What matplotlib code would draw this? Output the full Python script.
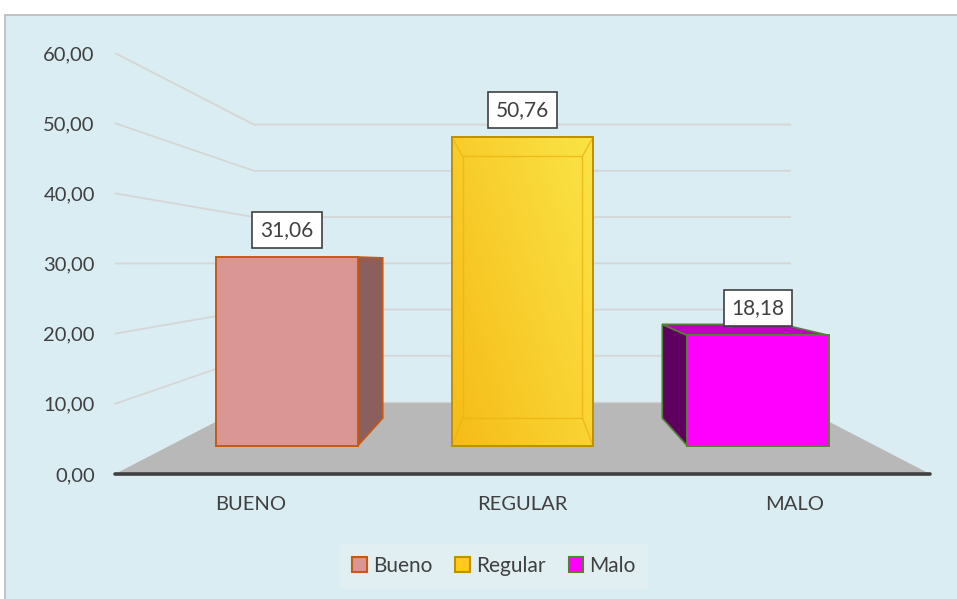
import matplotlib
matplotlib.use("Agg")
import matplotlib.pyplot as plt
import numpy as np
from matplotlib.patches import Polygon, Rectangle, Patch

# ---- data ----
categories = ["BUENO", "REGULAR", "MALO"]
series_names = ["Bueno", "Regular", "Malo"]
values = [31.06, 50.76, 18.18]
value_labels = ["31,06", "50,76", "18,18"]
y_ticks = [0, 10, 20, 30, 40, 50, 60]
y_tick_labels = ["0,00", "10,00", "20,00", "30,00", "40,00", "50,00", "60,00"]

# ---- style ----
FONT = "Lato"
TXT = "#404040"
front_colors = ["#D99694", "#F9CE2A", "#FF00FF"]
side_colors = ["#8C5F5F", "#D9A800", "#5F0060"]
top_colors = ["#B07272", "#F0C020", "#C000C0"]
edge_colors = ["#C55A11", "#BF9000", "#548235"]
legend_face = ["#D99694", "#FFC91F", "#FF00FF"]
glass = [False, True, False]

W, H = 957, 599
fig = plt.figure(figsize=(W / 100, H / 100), dpi=100)
fig.patch.set_facecolor("white")

# chart area background
fig.patches.append(Rectangle((5 / W, -0.05), 1.2, 1 - 15 / H + 0.05, transform=fig.transFigure,
                             facecolor="#DAEDF3", edgecolor="#C3C3C3", lw=1.5, zorder=-10))

ax = fig.add_axes([115 / W, (H - 474) / H, 815 / W, 421 / H])
ax.set_xlim(0, len(categories))
ax.set_ylim(0, 60)
ax.patch.set_visible(False)
for sp in ax.spines.values():
    sp.set_visible(False)

# perspective: vanishing point and depth scale factors (in data units)
VPX, VPY = len(categories) / 2, 30.07
S_FLOOR_BACK = 0.659
S_BAR_FRONT = 0.867
S_BAR_BACK = 0.735


def proj(x, y, s):
    return (VPX + s * (x - VPX), VPY + s * (y - VPY))


n = len(categories)
# gridlines: left wall + back wall
for v in y_ticks[1:]:
    p0 = proj(0, v, 1.0)
    p1 = proj(0, v, S_FLOOR_BACK)
    p2 = proj(n, v, S_FLOOR_BACK)
    ax.plot([p0[0], p1[0], p2[0]], [p0[1], p1[1], p2[1]], color="#D6D6D6", lw=1.3,
            clip_on=False, zorder=1, solid_capstyle="butt")

# floor
floor = [proj(0, 0, 1), proj(n, 0, 1), proj(n, 0, S_FLOOR_BACK), proj(0, 0, S_FLOOR_BACK)]
ax.add_patch(Polygon(floor, closed=True, facecolor="#B8B8B8", edgecolor="none", zorder=2, clip_on=False))
bl, br = proj(0, 0, S_FLOOR_BACK), proj(n, 0, S_FLOOR_BACK)
ax.plot([bl[0], br[0]], [bl[1], br[1]], color="#CFCFCF", lw=1.0, zorder=2.1, clip_on=False)
# axis line
ax.plot([0, n], [0, 0], color="#404040", lw=2.6, zorder=2.5, clip_on=False, solid_capstyle="round")

bw = 0.6
f, b = S_BAR_FRONT, S_BAR_BACK
for i, v in enumerate(values):
    xc = i + 0.5
    x0, x1 = xc - bw / 2, xc + bw / 2
    ec = edge_colors[i]
    z = 3 + i * 0.1
    # side faces
    if x1 < VPX:
        side = [proj(x1, 0, f), proj(x1, v, f), proj(x1, v, b), proj(x1, 0, b)]
        ax.add_patch(Polygon(side, closed=True, facecolor=side_colors[i], edgecolor=ec, lw=1.2,
                             zorder=z, clip_on=False))
    if x0 > VPX:
        side = [proj(x0, 0, f), proj(x0, v, f), proj(x0, v, b), proj(x0, 0, b)]
        ax.add_patch(Polygon(side, closed=True, facecolor=side_colors[i], edgecolor=ec, lw=1.2,
                             zorder=z, clip_on=False))
    if v < VPY:
        top = [proj(x0, v, f), proj(x1, v, f), proj(x1, v, b), proj(x0, v, b)]
        ax.add_patch(Polygon(top, closed=True, facecolor=top_colors[i], edgecolor=ec, lw=1.2,
                             zorder=z, clip_on=False))
    front = [proj(x0, 0, f), proj(x1, 0, f), proj(x1, v, f), proj(x0, v, f)]
    fp = Polygon(front, closed=True, facecolor=front_colors[i], edgecolor=ec, lw=1.4,
                 zorder=z + 0.02, clip_on=False)
    ax.add_patch(fp)
    if glass[i]:
        # gradient fill
        gx = np.linspace(0, 1, 64)
        gy = np.linspace(0, 1, 64)
        GX, GY = np.meshgrid(gx, gy)
        t = (GX * 0.6 + GY * 0.4)
        c0 = np.array(matplotlib.colors.to_rgb("#F6BC18"))
        c1 = np.array(matplotlib.colors.to_rgb("#FAE446"))
        img = c0[None, None, :] * (1 - t[..., None]) + c1[None, None, :] * t[..., None]
        fx0, fy0 = proj(x0, 0, f)
        fx1, fy1 = proj(x1, v, f)
        im = ax.imshow(img, extent=[fx0, fx1, fy0, fy1], origin="lower", aspect="auto",
                       zorder=z + 0.03, clip_on=True, interpolation="bilinear")
        im.set_clip_path(fp)
        # back face outline and connectors
        bk = [proj(x0, 0, b), proj(x1, 0, b), proj(x1, v, b), proj(x0, v, b)]
        bx = [p[0] for p in bk] + [bk[0][0]]
        by = [p[1] for p in bk] + [bk[0][1]]
        ax.plot(bx, by, color="#EDB412", lw=1.0, alpha=0.8, zorder=z + 0.04, clip_on=False)
        for pf, pb in zip(front, bk):
            ax.plot([pf[0], pb[0]], [pf[1], pb[1]], color="#EDB412", lw=1.0, alpha=0.8,
                    zorder=z + 0.04, clip_on=False)
        ax.add_patch(Polygon(front, closed=True, facecolor="none", edgecolor=ec, lw=1.4,
                             zorder=z + 0.05, clip_on=False))
    # data label
    lx, ly = proj(xc, v, f)
    ax.annotate(value_labels[i], (lx, ly), xytext=(0, 19.5), textcoords="offset points",
                ha="center", va="center", fontsize=15, family=FONT, color=TXT, zorder=10,
                bbox=dict(boxstyle="square,pad=0.38", facecolor="white", edgecolor="#404040", lw=1.2),
                annotation_clip=False)

# ticks
ax.set_yticks(y_ticks)
ax.set_yticklabels(y_tick_labels)
ax.set_xticks([i + 0.5 for i in range(n)])
ax.set_xticklabels(categories)
ax.tick_params(axis="y", length=0, pad=14.5, labelsize=14.5, labelcolor=TXT)
ax.tick_params(axis="x", length=0, pad=16, labelsize=14.5, labelcolor=TXT)
for lab in ax.get_xticklabels() + ax.get_yticklabels():
    lab.set_family(FONT)

# legend
handles = [Patch(facecolor=legend_face[i], edgecolor=edge_colors[i], lw=1.5, label=series_names[i])
           for i in range(n)]
leg = fig.legend(handles=handles, loc="center", bbox_to_anchor=(494 / W, 1 - 566 / H), ncol=3,
                 frameon=True, fancybox=False, handlelength=0.7, handleheight=0.7,
                 handletextpad=0.3, columnspacing=1.1, borderpad=0.6,
                 prop={"family": FONT, "size": 15})
leg.get_frame().set_facecolor("#E4F0F4")
leg.get_frame().set_edgecolor("none")
for t in leg.get_texts():
    t.set_color(TXT)

fig.savefig("out.png", dpi=100)
